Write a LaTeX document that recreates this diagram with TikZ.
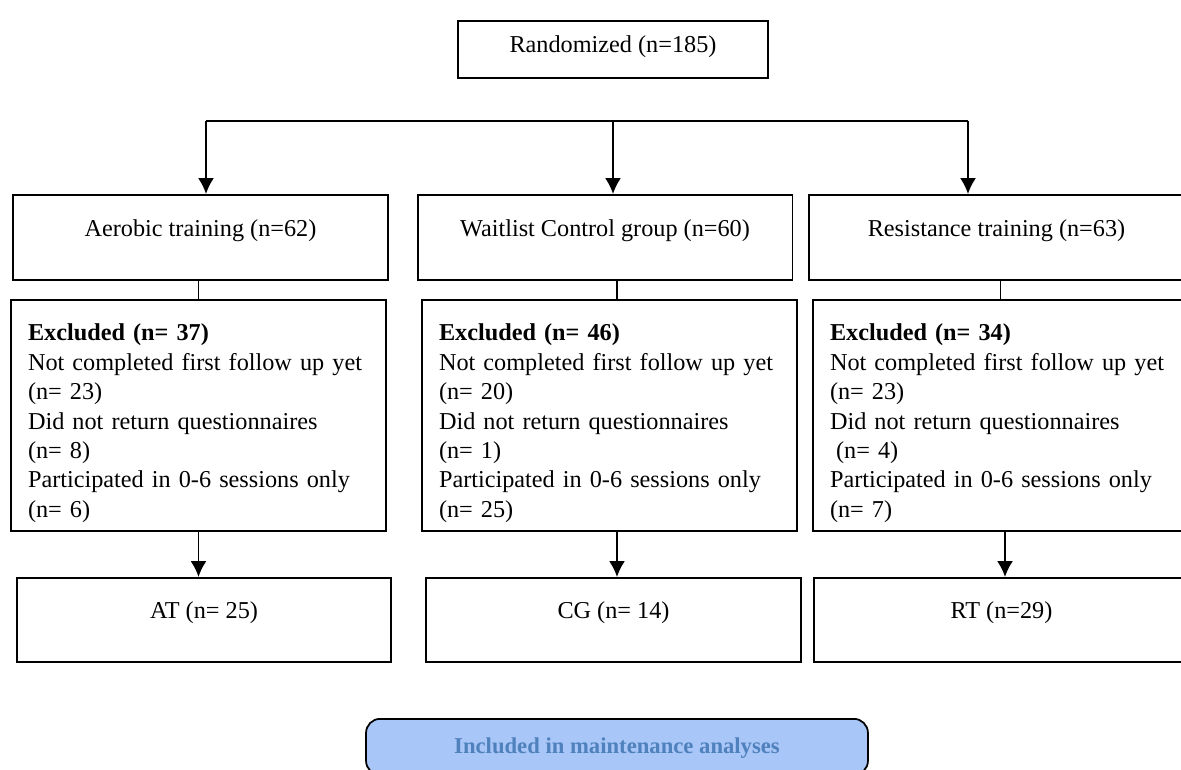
\documentclass[tikz,border=0pt]{standalone}
\usepackage{fontspec}
\setmainfont{Liberation Serif}
\usetikzlibrary{arrows.meta}
\definecolor{inclfill}{RGB}{168,198,248}
\definecolor{incltext}{RGB}{79,129,189}
\tikzset{
  box/.style={draw, line width=1.1pt, inner sep=0pt, anchor=north, minimum width=7.5cm, font=\fontsize{13.8pt}{16.73pt}\selectfont},
  grp/.style={box, text height=0.84cm, text depth=0.86cm},
  excl/.style={box, text width=6.82cm, align=left},
  fin/.style={box, text height=0.82cm, text depth=0.86cm},
  arr/.style={-{Latex[length=9pt,width=9pt]}, line width=1pt},
  link/.style={line width=0.6pt}
}
\newcommand{\firstline}{\rule{0pt}{0.82cm}}
\newcommand{\lastline}{\rule[-0.28cm]{0pt}{0pt}}
\begin{document}
\begin{tikzpicture}[x=0.02cm, y=-0.02cm]
\useasboundingbox (0,0) rectangle (1181,770);
\clip (0,0) rectangle (1181,770);
\node[box, minimum width=6.2cm, text height=0.64cm, text depth=0.5cm] (rand) at (613,20) {Randomized (n=185)};
% groups
\node[grp] (aer) at (200.5,194) {Aerobic training (n=62)};
\node[grp] (wait) at (605,194) {Waitlist Control group (n=60)};
\node[grp] (resist) at (996.5,194) {Resistance training (n=63)};
% exclusions
\node[excl] (exa) at (198.5,299) {\firstline\textbf{Excluded (n= 37)}\\Not completed first follow up yet\\(n= 23)\\Did not return questionnaires\\(n= 8)\\Participated in 0-6 sessions only\\(n= 6)\lastline};
\node[excl] (exb) at (609.5,299) {\firstline\textbf{Excluded (n= 46)}\\Not completed first follow up yet\\(n= 20)\\Did not return questionnaires\\(n= 1)\\Participated in 0-6 sessions only\\(n= 25)\lastline};
\node[excl] (exc) at (1000.5,299) {\firstline\textbf{Excluded (n= 34)}\\Not completed first follow up yet\\(n= 23)\\Did not return questionnaires\\\hspace{0.25em}(n= 4)\\Participated in 0-6 sessions only\\(n= 7)\lastline};
% analysed
\node[fin] (at) at (204,577) {AT (n= 25)};
\node[fin] (cg) at (613.5,577) {CG (n= 14)};
\node[fin] (rt) at (1001.5,577) {RT (n=29)};
\node[draw, line width=1pt, rounded corners=8pt, fill=inclfill, text=incltext, inner sep=0pt, anchor=north, minimum width=10.04cm, text height=0.7cm, text depth=0.42cm, font=\fontsize{12.9pt}{15pt}\selectfont\bfseries] (incl) at (617,718) {Included in maintenance analyses};
% branches
\coordinate (hl) at (206,121);
\coordinate (hm) at (613,121);
\coordinate (hr) at (968,121);
\draw[line width=1pt] (hl) -- (hr);
\draw[arr] (hl) -- (hl |- aer.north);
\draw[arr] (hm) -- (hm |- wait.north);
\draw[arr] (hr) -- (hr |- resist.north);
\draw[link] (exa.north) -- (exa.north |- aer.south);
\draw[link] ([xshift=0.15cm]exb.north) -- ([xshift=0.15cm]exb.north |- wait.south);
\draw[link] (exc.north) -- (exc.north |- resist.south);
\draw[arr] (exa.south) -- (exa.south |- at.north);
\draw[arr] ([xshift=0.15cm]exb.south) -- ([xshift=0.15cm]exb.south |- cg.north);
\draw[arr] ([xshift=0.09cm]exc.south) -- ([xshift=0.09cm]exc.south |- rt.north);
\end{tikzpicture}
\end{document}
